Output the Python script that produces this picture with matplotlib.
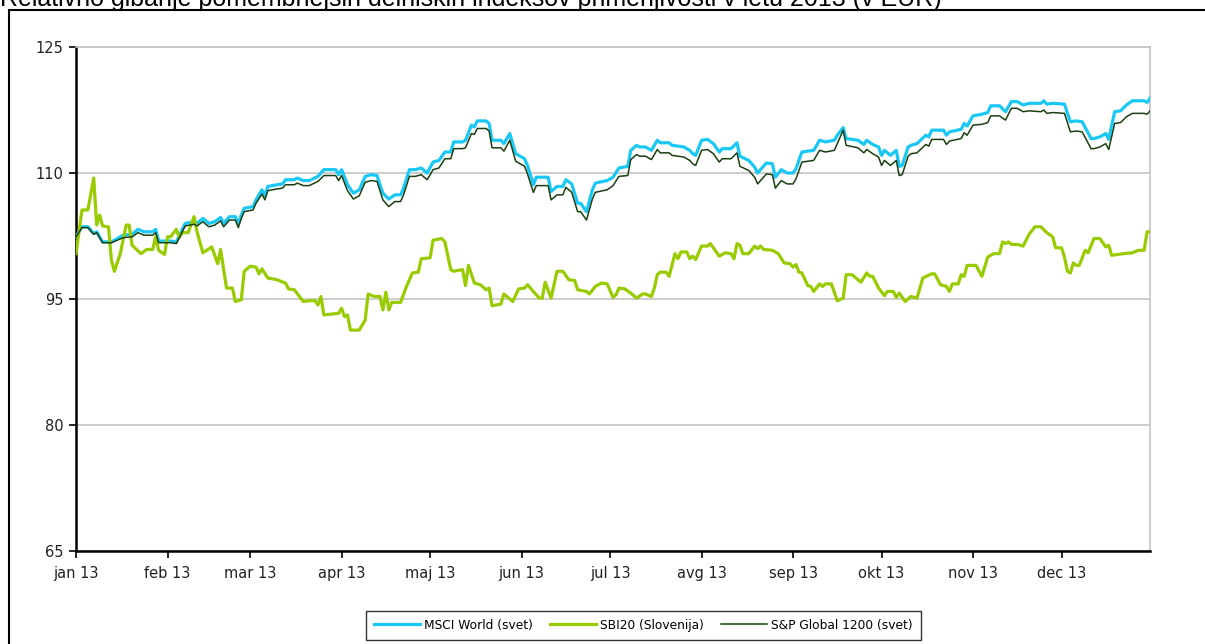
import matplotlib.pyplot as plt
from matplotlib.patches import Rectangle
import pandas as pd

# day of year 2013 (0 = 1 jan) and index values
msci_days = [0, 2, 4, 6, 7, 9, 12, 14, 16, 19, 21, 23, 26, 27, 28, 32, 34, 37, 40, 41,
             43, 45, 47, 49, 50, 52, 54, 55, 56, 57, 60, 61, 63, 64, 65, 68, 70, 71, 74, 75,
             77, 79, 82, 84, 88, 89, 90, 92, 94, 96, 98, 100, 102, 103, 104, 106, 108, 110, 111, 113,
             115, 117, 119, 121, 123, 125, 127, 128, 131, 132, 134, 135, 136, 139, 140, 141, 144, 145, 147, 149,
             152, 153, 155, 156, 160, 161, 163, 165, 166, 168, 170, 171, 173, 175, 176, 180, 182, 184, 187, 188,
             190, 191, 193, 195, 197, 198, 201, 202, 206, 208, 209, 210, 212, 214, 216, 218, 219, 222, 224, 225,
             228, 230, 231, 234, 236, 237, 239, 241, 243, 244, 246, 250, 252, 254, 257, 258, 260, 261, 265, 267,
             268, 270, 272, 273, 274, 276, 278, 279, 280, 282, 283, 285, 288, 289, 290, 294, 295, 296, 300, 301,
             302, 304, 307, 309, 310, 313, 315, 317, 319, 321, 323, 327, 328, 329, 331, 335, 336, 337, 339, 341,
             344, 345, 347, 349, 350, 352, 354, 356, 358, 362, 363, 364]
msci = [102.4, 103.6, 103.6, 102.8, 103.0, 101.8, 101.8, 102.2, 102.6, 102.7, 103.3, 103.0, 103.0, 103.3, 101.9, 101.9, 101.8, 104.0, 104.2, 104.0,
        104.6, 104.0, 104.2, 104.7, 104.0, 104.8, 104.8, 103.9, 105.0, 105.8, 106.0, 106.8, 108.0, 107.3, 108.4, 108.6, 108.7, 109.2, 109.2, 109.4,
        109.1, 109.1, 109.6, 110.4, 110.4, 109.8, 110.4, 108.6, 107.6, 108.0, 109.6, 109.8, 109.7, 108.6, 107.6, 106.9, 107.4, 107.4, 108.2, 110.4,
        110.4, 110.6, 110.0, 111.3, 111.5, 112.5, 112.5, 113.7, 113.7, 113.9, 115.7, 115.5, 116.2, 116.2, 115.9, 113.9, 113.9, 113.5, 114.7, 112.3,
        111.7, 110.9, 108.6, 109.5, 109.5, 107.8, 108.4, 108.4, 109.2, 108.7, 106.4, 106.4, 105.4, 108.0, 108.8, 109.1, 109.5, 110.6, 110.8, 112.7,
        113.3, 113.1, 113.1, 112.7, 113.9, 113.6, 113.6, 113.3, 113.1, 112.7, 112.3, 112.1, 113.9, 114.0, 113.5, 112.5, 112.9, 112.9, 113.6, 112.0,
        111.5, 110.7, 110.0, 111.2, 111.1, 109.5, 110.4, 110.0, 110.0, 110.5, 112.5, 112.7, 113.9, 113.7, 113.9, 114.5, 115.4, 114.1, 113.9, 113.4,
        113.9, 113.4, 113.1, 112.1, 112.7, 112.1, 112.7, 110.8, 110.9, 113.1, 113.3, 113.5, 114.5, 114.3, 115.1, 115.1, 114.5, 114.9, 115.2, 115.9,
        115.6, 116.8, 117.0, 117.2, 118.0, 118.0, 117.3, 118.5, 118.5, 118.1, 118.3, 118.3, 118.6, 118.2, 118.3, 118.2, 117.1, 116.1, 116.2, 116.1,
        114.1, 114.1, 114.3, 114.7, 114.0, 117.3, 117.4, 118.1, 118.6, 118.6, 118.4, 118.9]
sp_global = [102.4, 103.5, 103.5, 102.7, 102.9, 101.7, 101.7, 102.0, 102.3, 102.4, 102.9, 102.6, 102.6, 102.9, 101.7, 101.7, 101.6, 103.7, 103.9, 103.7,
             104.2, 103.6, 103.8, 104.3, 103.6, 104.4, 104.4, 103.5, 104.6, 105.4, 105.6, 106.4, 107.5, 106.8, 107.9, 108.1, 108.2, 108.6, 108.6, 108.8,
             108.5, 108.5, 109.0, 109.7, 109.7, 109.1, 109.7, 107.9, 106.9, 107.3, 108.9, 109.1, 109.0, 107.9, 106.8, 106.0, 106.6, 106.6, 107.4, 109.6,
             109.6, 109.8, 109.2, 110.4, 110.6, 111.7, 111.7, 112.9, 112.9, 113.0, 114.7, 114.6, 115.3, 115.3, 115.0, 113.0, 113.0, 112.6, 113.9, 111.4,
             110.8, 109.9, 107.7, 108.5, 108.5, 106.8, 107.4, 107.4, 108.3, 107.7, 105.4, 105.4, 104.4, 106.9, 107.7, 108.0, 108.5, 109.6, 109.7, 111.6,
             112.2, 112.0, 112.0, 111.6, 112.8, 112.4, 112.4, 112.1, 111.9, 111.5, 111.1, 110.9, 112.7, 112.8, 112.3, 111.3, 111.7, 111.7, 112.4, 110.8,
             110.3, 109.5, 108.7, 109.9, 109.8, 108.2, 109.1, 108.7, 108.7, 109.3, 111.3, 111.5, 112.7, 112.5, 112.7, 113.5, 115.1, 113.3, 113.0, 112.4,
             112.8, 112.3, 111.9, 110.9, 111.5, 110.9, 111.5, 109.7, 109.8, 112.0, 112.3, 112.4, 113.4, 113.2, 114.0, 114.0, 113.4, 113.8, 114.1, 114.8,
             114.5, 115.7, 115.8, 116.0, 116.8, 116.8, 116.3, 117.7, 117.7, 117.3, 117.4, 117.3, 117.5, 117.1, 117.2, 117.1, 116.0, 114.9, 115.0, 114.9,
             112.9, 112.9, 113.1, 113.5, 112.8, 115.9, 116.0, 116.7, 117.1, 117.1, 117.0, 117.4]

sbi_days = [0, 2, 4, 6, 7, 8, 9, 11, 12, 13, 15, 17, 18, 19, 22, 24, 26, 27, 28, 30,
            31, 32, 34, 35, 36, 38, 40, 41, 43, 46, 48, 49, 51, 53, 54, 56, 57, 59, 61, 62,
            63, 65, 68, 71, 72, 74, 77, 79, 81, 82, 83, 84, 89, 90, 91, 92, 93, 96, 98, 99,
            101, 103, 104, 105, 106, 107, 110, 112, 114, 116, 117, 120, 121, 124, 125, 127, 128, 131, 132, 133,
            135, 137, 139, 140, 141, 144, 145, 148, 150, 152, 153, 155, 157, 158, 159, 161, 163, 165, 167, 169,
            170, 173, 174, 176, 178, 180, 182, 183, 184, 186, 188, 190, 192, 193, 195, 196, 197, 198, 200, 201,
            203, 204, 205, 207, 208, 209, 210, 212, 214, 215, 218, 220, 222, 223, 224, 225, 226, 228, 230, 231,
            232, 233, 236, 238, 240, 242, 243, 244, 245, 246, 248, 249, 250, 252, 253, 254, 256, 258, 260, 261,
            263, 266, 268, 269, 270, 272, 274, 275, 277, 278, 279, 281, 283, 285, 287, 290, 291, 293, 295, 296,
            297, 299, 300, 301, 302, 305, 307, 309, 311, 313, 314, 315, 316, 317, 319, 321, 323, 325, 327, 329,
            331, 332, 334, 335, 336, 337, 338, 339, 340, 342, 343, 345, 347, 349, 350, 351, 353, 355, 358, 360,
            362, 363, 364]
sbi20 = [100.4, 105.6, 105.6, 109.4, 103.8, 105.0, 103.7, 103.6, 99.6, 98.3, 100.4, 103.8, 103.8, 101.4, 100.4, 100.9, 100.9, 102.4, 100.8, 100.3,
         102.4, 102.4, 103.3, 102.3, 102.9, 102.9, 104.8, 103.0, 100.5, 101.2, 99.2, 100.9, 96.3, 96.3, 94.7, 94.9, 98.3, 98.9, 98.8, 98.0,
         98.6, 97.5, 97.3, 96.9, 96.2, 96.1, 94.7, 94.8, 94.8, 94.3, 95.3, 93.1, 93.3, 93.9, 92.9, 93.1, 91.3, 91.3, 92.5, 95.6,
         95.3, 95.3, 93.7, 95.8, 93.7, 94.6, 94.6, 96.5, 98.1, 98.2, 99.8, 99.9, 102.0, 102.2, 101.8, 98.5, 98.3, 98.5, 96.6, 99.0,
         96.9, 96.7, 96.1, 96.3, 94.2, 94.4, 95.6, 94.7, 96.2, 96.3, 96.7, 95.9, 95.1, 95.1, 97.0, 95.1, 98.3, 98.3, 97.3, 97.2,
         96.1, 95.9, 95.6, 96.5, 96.9, 96.8, 95.2, 95.5, 96.3, 96.2, 95.7, 95.1, 95.6, 95.6, 95.3, 96.3, 97.9, 98.2, 98.2, 97.7,
         100.4, 99.8, 100.6, 100.6, 99.8, 100.1, 99.7, 101.3, 101.3, 101.6, 100.1, 100.5, 100.4, 99.8, 101.6, 101.4, 100.4, 100.4, 101.3, 101.0,
         101.3, 100.9, 100.8, 100.4, 99.3, 99.2, 98.8, 99.1, 98.2, 98.1, 96.6, 96.5, 95.9, 96.8, 96.5, 96.8, 96.8, 94.8, 95.1, 97.9,
         97.9, 97.0, 98.1, 97.7, 97.7, 96.3, 95.4, 95.9, 95.9, 95.2, 95.7, 94.7, 95.3, 95.1, 97.5, 98.0, 98.0, 96.7, 96.5, 95.9,
         96.8, 96.8, 97.9, 97.7, 99.0, 99.0, 97.7, 100.0, 100.4, 100.4, 101.8, 101.6, 101.8, 101.5, 101.5, 101.3, 102.7, 103.6, 103.6, 102.9,
         102.4, 101.1, 101.1, 100.0, 98.3, 98.1, 99.3, 99.0, 99.0, 100.8, 100.5, 102.2, 102.2, 101.2, 101.4, 100.2, 100.3, 100.4, 100.5, 100.8,
         100.8, 103.0, 103.0]

month_labels = ['jan 13', 'feb 13', 'mar 13', 'apr 13', 'maj 13', 'jun 13',
                'jul 13', 'avg 13', 'sep 13', 'okt 13', 'nov 13', 'dec 13']
series_labels = ['MSCI World (svet)', 'SBI20 (Slovenija)', 'S&P Global 1200 (svet)']
title = 'Relativno gibanje pomembnejših delniških indeksov primerljivosti v letu 2013 (v EUR)'

start = pd.Timestamp('2013-01-01')
msci_dates = start + pd.to_timedelta(msci_days, unit='D')
sbi_dates = start + pd.to_timedelta(sbi_days, unit='D')

fig = plt.figure(figsize=(12.05, 6.44), dpi=100)
ax = fig.add_axes([0.0631, 0.1444, 0.8913, 0.7826])

ax.plot(msci_dates, msci, color='#19c8f5', lw=2.3, label=series_labels[0], zorder=3)
ax.plot(sbi_dates, sbi20, color='#99cc00', lw=2.3, label=series_labels[1], zorder=3)
ax.plot(msci_dates, sp_global, color='#1b3f12', lw=1.1, label=series_labels[2], zorder=4)

ax.set_ylim(65, 125)
ax.set_yticks([65, 80, 95, 110, 125])
ax.set_xlim(start, pd.Timestamp('2013-12-31'))
month_starts = pd.date_range('2013-01-01', periods=12, freq='MS')
ax.set_xticks(month_starts)
ax.set_xticklabels(month_labels)

ax.grid(axis='y', color='#c4c4c4', lw=1.2)
ax.set_axisbelow(True)
for side in ['left', 'bottom']:
    ax.spines[side].set_color('black')
    ax.spines[side].set_linewidth(1.8)
for side in ['top', 'right']:
    ax.spines[side].set_color('#c4c4c4')
    ax.spines[side].set_linewidth(1.2)
ax.tick_params(axis='both', direction='out', length=5, width=1.2, labelsize=10.5,
               colors='black', labelcolor='#222222')
ax.tick_params(axis='x', pad=6)
ax.tick_params(axis='y', pad=4)

leg = ax.legend(loc='lower center', bbox_to_anchor=(0.528, -0.188), bbox_transform=ax.transAxes,
                ncol=3, fontsize=8.8, frameon=True, fancybox=False, handlelength=3.8,
                columnspacing=1.4, borderpad=0.65, handletextpad=0.3)
leg.get_frame().set_edgecolor('black')
leg.get_frame().set_linewidth(1.0)

# outer frame and cut-off title
fig.patches.append(Rectangle((9 / 1205, -0.1), 1.2, (634 / 644) + 0.1, transform=fig.transFigure,
                             fill=False, edgecolor='black', lw=1.5))
fig.text(0.0, 1 - 6 / 644, title, family='Liberation Sans', fontsize=18,
         ha='left', va='baseline', color='black')

fig.savefig('out.png', dpi=100)
